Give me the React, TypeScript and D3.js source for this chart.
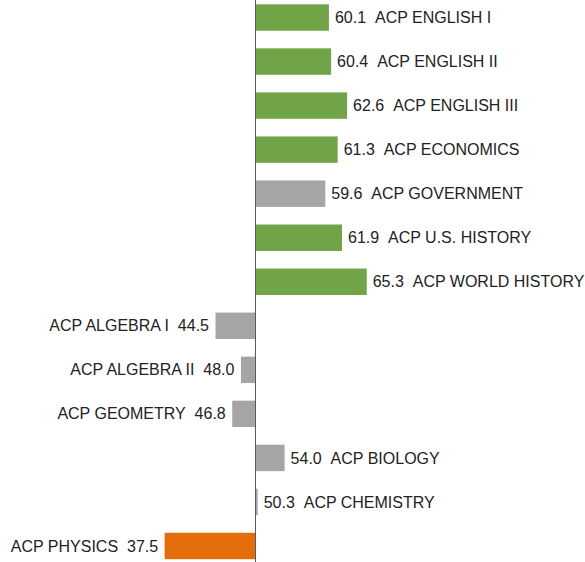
import * as React from 'react';
import * as d3 from 'd3';

const subjects = [
  'ACP ENGLISH I',
  'ACP ENGLISH II',
  'ACP ENGLISH III',
  'ACP ECONOMICS',
  'ACP GOVERNMENT',
  'ACP U.S. HISTORY',
  'ACP WORLD HISTORY',
  'ACP ALGEBRA I',
  'ACP ALGEBRA II',
  'ACP GEOMETRY',
  'ACP BIOLOGY',
  'ACP CHEMISTRY',
  'ACP PHYSICS',
];
const scores = [60.1, 60.4, 62.6, 61.3, 59.6, 61.9, 65.3, 44.5, 48.0, 46.8, 54.0, 50.3, 37.5];
const baseline = 50;

const width = 585;
const height = 562;

function colorFor(v: number) {
  if (v >= 60) return '#71A446';
  if (v < 40) return '#E46C0A';
  return '#A5A5A5';
}

export default function App() {
  const x = d3.scaleLinear().domain([baseline, baseline + 10]).range([255.5, 328.2]);
  const y = d3.scaleBand<string>()
    .domain(subjects)
    .range([-4.5, 568])
    .paddingInner(0.4)
    .paddingOuter(0.2);

  const data = subjects.map((s, i) => ({ name: s, value: scores[i] }));

  return (
    <svg
      width={width}
      height={height}
      style={{ position: 'absolute', left: 0, top: 0 }}
      fontFamily="Liberation Sans, Arial, sans-serif"
      fontSize={16}
    >
      {data.map(d => {
        const x0 = x(Math.min(d.value, baseline));
        const x1 = x(Math.max(d.value, baseline));
        const cy = (y(d.name) as number) + y.bandwidth() / 2;
        const right = d.value >= baseline;
        const label = right
          ? `${d.value.toFixed(1)}\u00a0\u00a0${d.name}`
          : `${d.name}\u00a0\u00a0${d.value.toFixed(1)}`;
        return (
          <g key={d.name}>
            <rect
              x={x0}
              y={y(d.name)}
              width={Math.max(x1 - x0, 0)}
              height={y.bandwidth()}
              fill={colorFor(d.value)}
            />
            <text
              x={right ? x1 + 6 : x0 - 6.5}
              y={cy + 5.6}
              textAnchor={right ? 'start' : 'end'}
              fill="#222"
            >
              {label}
            </text>
          </g>
        );
      })}
      <line x1={x(baseline)} x2={x(baseline)} y1={0} y2={height} stroke="#595959" strokeWidth={1} />
    </svg>
  );
}
